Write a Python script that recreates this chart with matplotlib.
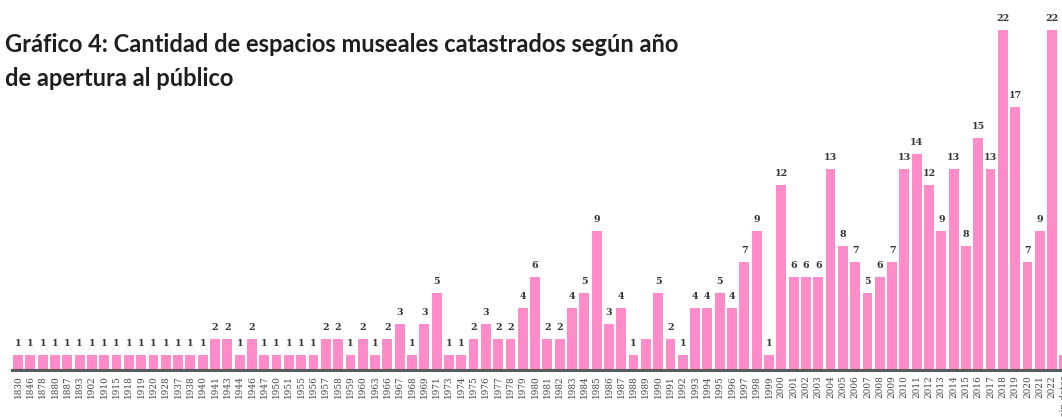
import matplotlib
matplotlib.use("Agg")
import matplotlib.pyplot as plt

years = ["1830", "1846", "1878", "1880", "1887", "1893", "1902", "1910", "1915", "1918",
         "1919", "1920", "1928", "1937", "1938", "1940", "1941", "1943", "1944", "1946",
         "1947", "1950", "1951", "1955", "1956", "1957", "1958", "1959", "1960", "1963",
         "1966", "1967", "1968", "1969", "1971", "1973", "1974", "1975", "1976", "1977",
         "1978", "1979", "1980", "1981", "1982", "1983", "1984", "1985", "1986", "1987",
         "1988", "1989", "1990", "1991", "1992", "1993", "1994", "1995", "1996", "1997",
         "1998", "1999", "2000", "2001", "2002", "2003", "2004", "2005", "2006", "2007",
         "2008", "2009", "2010", "2011", "2012", "2013", "2014", "2015", "2016", "2017",
         "2018", "2019", "2020", "2021", "2022", "sin datos"]
counts = [1, 1, 1, 1, 1, 1, 1, 1, 1, 1,
          1, 1, 1, 1, 1, 1, 2, 2, 1, 2,
          1, 1, 1, 1, 1, 2, 2, 1, 2, 1,
          2, 3, 1, 3, 5, 1, 1, 2, 3, 2,
          2, 4, 6, 2, 2, 4, 5, 9, 3, 4,
          1, 2, 5, 2, 1, 4, 4, 5, 4, 7,
          9, 1, 12, 6, 6, 6, 13, 8, 7, 5,
          6, 7, 13, 14, 12, 9, 13, 8, 15, 13,
          22, 17, 7, 9, 22, 1]
# categories whose value label is not shown in the original
unlabeled = ["1989", "sin datos"]

title = "Gráfico 4: Cantidad de espacios museales catastrados según año\nde apertura al público"

W, H = 1062, 417
fig = plt.figure(figsize=(W / 100, H / 100), dpi=100)

n = len(years)
slot = 12.31
left_px = 11.9
right_px = left_px + slot * n
base_px = 370
top_px = 30
unit_px = (base_px - top_px) / 22.0
ymax = 23.5
ax_h_px = ymax * unit_px

ax = fig.add_axes([left_px / W, (H - base_px) / H, (right_px - left_px) / W, ax_h_px / H])

bar_color = "#ff8cc8"
x = list(range(n))
ax.bar(x, counts, width=0.8, color=bar_color, zorder=2)

for xi, yr, c in zip(x, years, counts):
    if yr in unlabeled:
        continue
    ax.text(xi, c + 0.45, str(c), ha="center", va="bottom", fontsize=6.8,
            fontweight="bold", color="#333333", family="DejaVu Serif")

ax.set_xlim(-0.5, n - 0.5)
ax.set_ylim(0, ymax)
ax.set_xticks(x)
ax.set_xticklabels(years, rotation=90, fontsize=6.4, color="#444444",
                   family="DejaVu Serif", va="top", ha="center")
ax.tick_params(axis="x", length=0, pad=4)
ax.set_yticks([])
for s in ["top", "right", "left"]:
    ax.spines[s].set_visible(False)
ax.spines["bottom"].set_color("#5a5a5a")
ax.spines["bottom"].set_linewidth(2.2)

fig.text(5 / W, 1 - 33 / H, title, ha="left", va="top", fontsize=17, fontweight="bold",
         color="#1e1e1e", family="Lato", linespacing=1.6)

fig.savefig("out.png", dpi=100)
